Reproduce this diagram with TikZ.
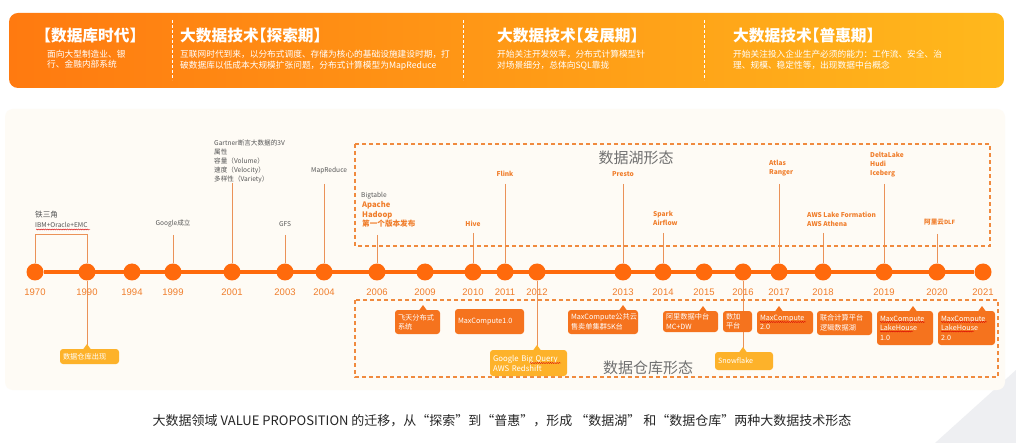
\documentclass[tikz,border=0pt]{standalone}
\usepackage{fontspec}
\setmainfont{Noto Sans CJK SC}
\newfontfamily\halffont{Noto Sans CJK SC}[RawFeature=+halt]
\newfontfamily\yearfont{Liberation Sans}
\usetikzlibrary{decorations.pathmorphing}
\definecolor{tl}{HTML}{FF6A0C}
\definecolor{boxor}{HTML}{F5731E}
\definecolor{boxye}{HTML}{FDB22A}
\definecolor{stemc}{HTML}{EB9258}
\definecolor{labor}{HTML}{F07E2C}
\definecolor{labgr}{HTML}{555555}
\definecolor{dashor}{HTML}{F08A3E}
\definecolor{bannerL}{HTML}{FF7A10}
\definecolor{bannerR}{HTML}{FFB81C}
\definecolor{panel}{HTML}{FEFBF5}
\definecolor{formgr}{HTML}{707070}
\definecolor{decogr}{HTML}{EEEFF2}
\pgfdeclarelayer{back}
\pgfdeclarelayer{lines}
\pgfsetlayers{back,lines,main}
\tikzset{
  dot/.style={circle, fill=tl, minimum size=17pt, inner sep=0pt},
  yearlab/.style={font=\yearfont\fontsize{9.5}{10}\selectfont, text=labor, inner sep=0pt},
  stem/.style={draw=stemc, line width=0.8pt},
  glab/.style={font=\fontsize{6.6}{9}\selectfont, text=labgr, inner sep=0pt, align=left},
  olab/.style={font=\bfseries\fontsize{6.6}{9}\selectfont, text=labor, inner sep=0pt, align=left},
  obox/.style={fill=boxor, rounded corners=3pt, text=white, font=\fontsize{7.2}{9.5}\selectfont, align=left, inner xsep=3pt, inner ysep=0pt},
  ybox/.style={fill=boxye, rounded corners=3pt, text=white, font=\fontsize{7.2}{9.5}\selectfont, align=left, inner xsep=3pt, inner ysep=0pt},
  dashbox/.style={draw=dashor, line width=1.2pt, dash pattern=on 4pt off 3pt},
  sepline/.style={draw=white, line width=1pt, dash pattern=on 3pt off 2pt},
  squig/.style={draw=red!85!black, line width=0.4pt, decorate, decoration={snake, amplitude=0.5pt, segment length=2.2pt}},
  ttl/.style={font=\halffont\bfseries\fontsize{15.7}{17}\selectfont, text=white, inner sep=0pt},
  sub/.style={font=\fontsize{8.7}{10.8}\selectfont, text=white, inner sep=0pt, align=left},
  timeline/.style={draw=tl, line width=4pt},
}
\newcommand\mybox[7]{%
  \pgfmathsetmacro\bw{#5-#3}\pgfmathsetmacro\bh{#6-#4}%
  \pgfmathsetmacro\bcx{(#3+#5)/2}\pgfmathsetmacro\bcy{(#4+#6)/2}%
  \pgfmathsetmacro\btw{\bw-6}%
  \node[#2, minimum width=\bw pt, minimum height=\bh pt, text width=\btw pt] (#1) at (\bcx,\bcy) {#7};}
\newcommand\ptr[3]{\fill[#1] (#2-4,#3+0.5) -- (#2,#3-5) -- (#2+4,#3+0.5) -- cycle;}
\begin{document}
\begin{tikzpicture}[x=1pt,y=-1pt]
\useasboundingbox (0,0) rectangle (1016,443);
\begin{pgfonlayer}{back}
\fill[white] (0,0) rectangle (1016,443);
\fill[decogr] (935,443) -- (1016,370) -- (1016,443) -- cycle;
\fill[panel, rounded corners=8pt] (5,109) rectangle (1005,390);
\begin{scope}
\clip[rounded corners=9pt] (9,13) rectangle (1004,88);
\shade[left color=bannerL, right color=bannerR] (9,13) rectangle (1004,88);
\end{scope}
\end{pgfonlayer}
% banner separators
\draw[sepline] (172,20) -- (172,80);
\draw[sepline] (463,20) -- (463,80);
\draw[sepline] (704,20) -- (704,80);
% banner texts
\node[ttl, anchor=west] (t1) at (43,36) {【数据库时代】};
\node[sub, anchor=north west] (s1) at (47,49.5) {面向大型制造业、银\\行、金融内部系统};
\node[ttl, anchor=west] (t2) at (180,36) {大数据技术【探索期】};
\node[sub, anchor=north west] (s2) at (180,50) {互联网时代到来，以分布式调度、存储为核心的基础设施建设时期，打\\破数据库以低成本大规模扩张问题，分布式计算模型为MapReduce};
\node[ttl, anchor=west] (t3) at (497,36) {大数据技术【发展期】};
\node[sub, anchor=north west] (s3) at (497,50) {开始关注开发效率，分布式计算模型针\\对场景细分，总体向SQL靠拢};
\node[ttl, anchor=west] (t4) at (733,36) {大数据技术【普惠期】};
\node[sub, anchor=north west] (s4) at (733,50) {开始关注投入企业生产必须的能力：工作流、安全、治\\理、规模、稳定性等，出现数据中台概念};
% dashed regions
\draw[dashbox] (355,144) rectangle (990,246);
\draw[dashbox] (355,300) rectangle (998,377);
\node[font=\fontsize{15}{15}\selectfont, text=formgr, inner sep=0pt] (lake) at (636,158) {数据湖形态};
\node[font=\fontsize{15}{15}\selectfont, text=formgr, inner sep=0pt] (wh) at (648,368) {数据仓库形态};
% timeline dots
\foreach \yr/\xx in {1970/35,1990/87,1994/132,1999/173,2001/232,2003/285,2004/324,2006/377,2009/425,2010/473,2011/505,2012/537,2013/623,2014/663,2015/704,2016/743,2017/779,2018/823,2019/884,2020/937,2021/983}{
  \node[dot] (c\yr) at (\xx,272) {};
  \node[yearlab] (y\yr) at (\xx,292) {\yr};
}
% stem tops
\coordinate (t1970) at (35,234);
\coordinate (t1990) at (87,234);
\coordinate (t1999) at (173,235);
\coordinate (t2001) at (232,183);
\coordinate (t2003) at (285,235);
\coordinate (t2004) at (324,184);
\coordinate (t2006) at (377,235);
\coordinate (t2010) at (473,233);
\coordinate (t2011) at (505,184);
\coordinate (t2013) at (623,184);
\coordinate (t2014) at (663,233);
\coordinate (t2017) at (779,184);
\coordinate (t2018) at (823,233);
\coordinate (t2019) at (884,184);
\coordinate (t2020) at (937,234);
% pointer tips of lower boxes
\coordinate (p1990) at (87,345);
\coordinate (p2012) at (537,346);
\coordinate (p2016) at (743,348);
\begin{pgfonlayer}{lines}
\draw[timeline] (c1970) -- (c2021);
\draw[stem] (c1970) -- (t1970) -- (t1990) -- (c1990);
\foreach \yr in {1999,2001,2003,2004,2006,2010,2011,2013,2014,2017,2018,2019,2020}{
  \draw[stem] (t\yr) -- (c\yr);
}
\draw[stem] (c1990) -- (p1990);
\draw[stem] (c2012) -- (p2012);
\draw[stem] (c2016) -- (p2016);
\end{pgfonlayer}
% upper labels
\node[glab, anchor=north west] (l1970) at (35,211) {{\fontsize{7.6}{9}\selectfont 铁三角}\\[0.5pt]IBM+Oracle+EMC};
\draw[squig] (36,229.5) -- (90,229.5);
\node[glab] (l1999) at (173,224) {Google成立};
\node[glab, anchor=north west] (l2001) at (214,139.5) {Gartner断言大数据的3V\\属性\\容量（Volume）\\速度（Velocity）\\多样性（Variety）};
\node[glab] (l2003) at (285,224) {GFS};
\node[glab, anchor=west] (l2004) at (311,171) {MapReduce};
\node[glab, anchor=west] (l2006a) at (361,196) {Bigtable};
\node[olab, anchor=north west, font=\bfseries\fontsize{7.6}{9.5}\selectfont] (l2006) at (362,201.5) {Apache\\Hadoop\\第一个版本发布};
\node[olab] (l2010) at (473,224) {Hive};
\node[olab] (l2011) at (505,174) {Flink};
\node[olab] (l2013) at (623,174) {Presto};
\node[olab, anchor=north west] (l2014) at (653,211.5) {Spark\\Airflow};
\node[olab, anchor=north west] (l2017) at (769,160.5) {Atlas\\Ranger};
\node[olab, anchor=north west] (l2018) at (807,211.5) {AWS Lake Formation\\AWS Athena};
\node[olab, anchor=north west] (l2019) at (870,152.5) {DeltaLake\\Hudi\\Iceberg};
\node[olab, anchor=west] (l2020) at (924,222) {阿里云{\fontsize{5.8}{7}\selectfont DLF}};
% lower boxes
\mybox{b1990}{ybox}{60}{349}{119}{364}{数据仓库出现}
\ptr{boxye}{87}{349}
\mybox{b2009}{obox}{395}{310}{440}{334}{飞天分布式\\系统}
\ptr{boxor}{423}{310}
\mybox{b2010}{obox}{455}{309}{524}{334}{MaxCompute1.0}
\mybox{b2012}{ybox, font=\fontsize{7.8}{10}\selectfont}{490}{350}{567}{376}{Google Big Query\\AWS Redshift}
\ptr{boxye}{537}{350}
\draw[squig] (530,363) -- (561,363);
\mybox{b2013}{obox}{568}{310}{638}{334}{MaxCompute公共云\\售卖单集群5K台}
\ptr{boxor}{623}{310}
\mybox{b2015}{obox}{663}{311}{718}{332}{阿里数据中台\\MC+DW}
\ptr{boxor}{703}{311}
\mybox{b2016}{obox}{723}{311}{752}{332}{数加\\平台}
\mybox{b2016s}{ybox}{715}{352}{773}{370}{Snowflake}
\ptr{boxye}{743}{352}
\mybox{b2017}{obox}{757}{311}{813}{334}{MaxCompute\\2.0}
\ptr{boxor}{779}{311}
\draw[squig] (760,322) -- (806,322);
\mybox{b2018}{obox}{817}{311}{872}{335}{联合计算平台\\逻辑数据湖}
\mybox{b2019}{obox}{877}{311}{933}{345}{MaxCompute\\LakeHouse\\1.0}
\ptr{boxor}{913}{311}
\draw[squig] (880,322) -- (925,322);
\draw[squig] (880,331.5) -- (913,331.5);
\mybox{b2021}{obox}{938}{311}{995}{345}{MaxCompute\\LakeHouse\\2.0}
\ptr{boxor}{982}{311}
\draw[squig] (941,322) -- (987,322);
\draw[squig] (941,331.5) -- (974,331.5);
% caption
\node[font=\fontsize{13}{14}\selectfont, text=black!85, inner sep=0pt] (cap) at (502,421) {大数据领域 VALUE PROPOSITION 的迁移，从“探索”到“普惠”，形成 “数据湖” 和“数据仓库”两种大数据技术形态};
\end{tikzpicture}
\end{document}
